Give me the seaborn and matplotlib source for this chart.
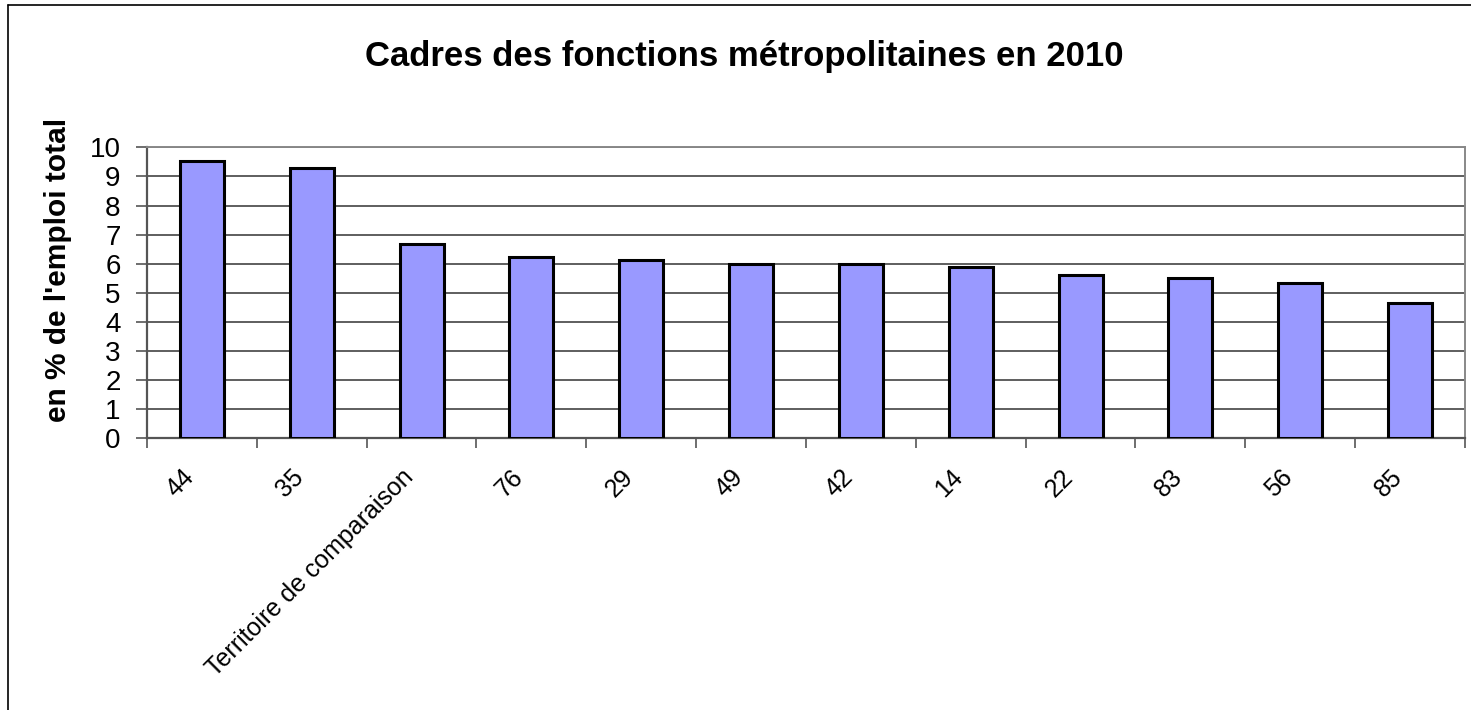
import numpy as np
import pandas as pd
import matplotlib
matplotlib.use("Agg")
import matplotlib.pyplot as plt
import matplotlib.transforms as mtransforms
from matplotlib.lines import Line2D
import seaborn as sns

# ─── Data ─────────────────────────────────────────────────────────────────────
territoires = ["44", "35", "Territoire de comparaison", "76", "29", "49",
               "42", "14", "22", "83", "56", "85"]
part_cadres = [9.53, 9.28, 6.69, 6.22, 6.14, 5.99, 5.98, 5.90, 5.60, 5.50, 5.35, 4.65]
y_ticks = list(range(0, 11))

TITLE  = "Cadres des fonctions métropolitaines en 2010"
YLABEL = "en % de l'emploi total"

df = pd.DataFrame({"territoire": territoires, "valeur": part_cadres})

# ─── Style ────────────────────────────────────────────────────────────────────
sns.set_theme(style="white", rc={"text.color": "black", "axes.labelcolor": "black",
                                 "xtick.color": "black", "ytick.color": "black"})
plt.rcParams["font.family"] = ["Liberation Sans", "DejaVu Sans"]

fig = plt.figure(figsize=(14.71, 7.10), dpi=100)
ax = fig.add_axes([0.0999, 0.3827, 0.8960, 0.4098])

sns.barplot(data=df, x="territoire", y="valeur", ax=ax, color="#9999ff",
            saturation=1, width=0.4, edgecolor="black", linewidth=2.2, zorder=3)

# ─── Axes ─────────────────────────────────────────────────────────────────────
ax.set_ylim(0, 10)
ax.set_xlim(-0.5, len(territoires) - 0.5)
ax.set_yticks(y_ticks)
ax.set_yticklabels([str(t) for t in y_ticks], fontsize=20)
ax.yaxis.grid(True, color="#333333", linewidth=1.1, zorder=0)
ax.set_axisbelow(True)

ax.tick_params(axis="x", which="major", direction="out", length=7,
               width=1.2, color="#555555", bottom=True)
ax.tick_params(axis="x", which="minor", length=0, pad=20)
ax.tick_params(axis="y", direction="out", length=8, width=1.2,
               color="#555555", left=True, pad=11)

# x ticks sit between categories, labels under the bars
ax.set_xticks(np.arange(len(territoires) + 1) - 0.5)
ax.set_xticklabels([])
ax.set_xticks(np.arange(len(territoires)), minor=True)
ax.set_xticklabels(territoires, minor=True, rotation=45, ha="right",
                   rotation_mode="anchor", fontsize=18)
shift = mtransforms.ScaledTranslation(-20 / 100, 1 / 100, fig.dpi_scale_trans)
for lbl in ax.get_xticklabels(minor=True):
    lbl.set_transform(lbl.get_transform() + shift)

for side in ["left", "bottom"]:
    ax.spines[side].set_color("#555555")
    ax.spines[side].set_linewidth(1.6)
for side in ["top", "right"]:
    ax.spines[side].set_color("#888888")
    ax.spines[side].set_linewidth(1.4)

ax.set_xlabel("")
ax.set_ylabel(YLABEL, fontsize=21.5, fontweight="bold")
ax.yaxis.set_label_coords(-0.0570, 0.578)

fig.text(0.506, 0.920, TITLE, ha="center", va="center",
         fontsize=25, fontweight="bold")

# outer chart frame (left and top edges visible)
fig.add_artist(Line2D([0.0055, 0.0055], [0.0, 0.993], color="black",
                      linewidth=1.2, transform=fig.transFigure))
fig.add_artist(Line2D([0.0055, 1.0], [0.993, 0.993], color="black",
                      linewidth=1.2, transform=fig.transFigure))

plt.savefig("out.png", dpi=100)
plt.close()
